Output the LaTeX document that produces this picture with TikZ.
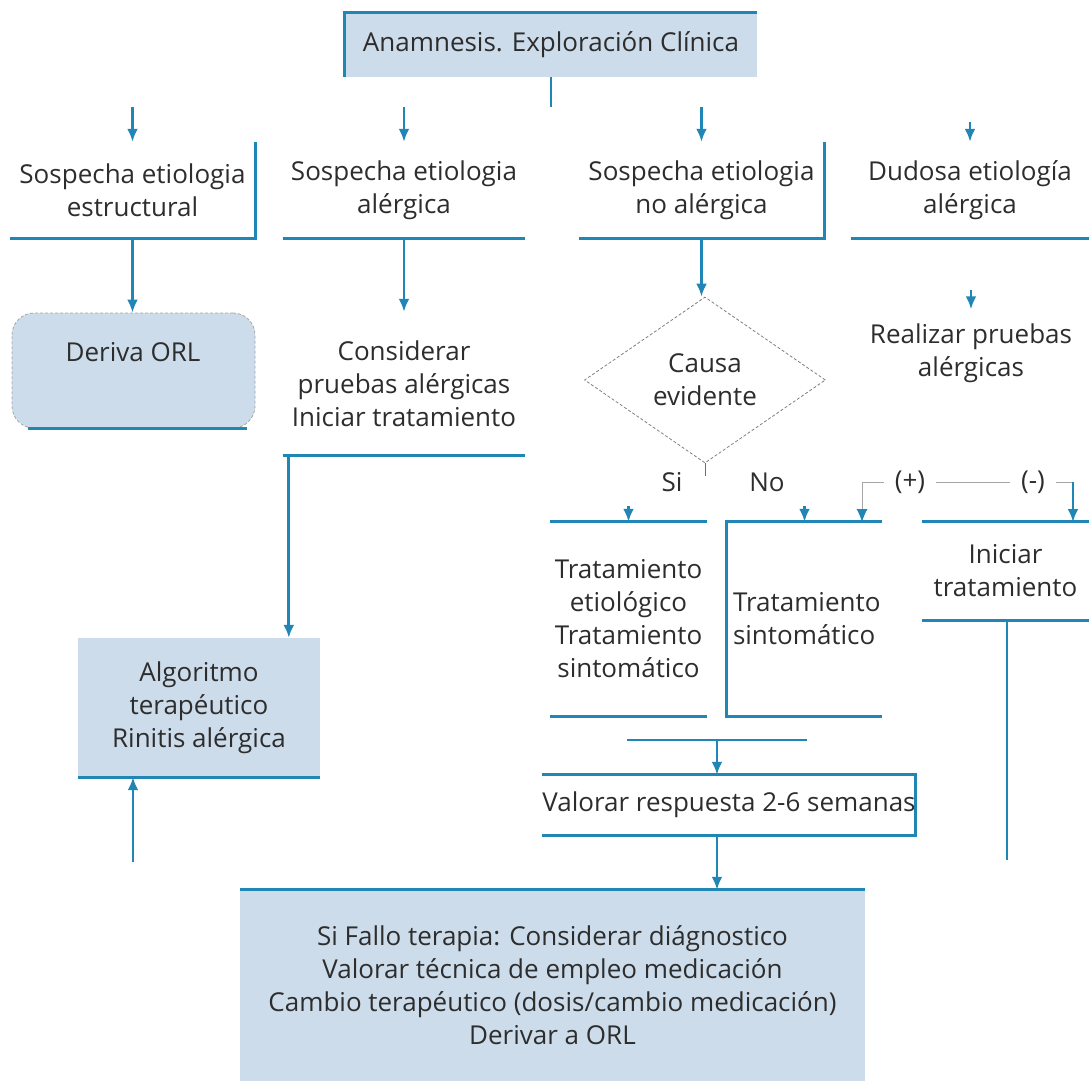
\documentclass[tikz,border=0pt]{standalone}
\usepackage{fontspec}
\setmainfont{Open Sans}
\usepackage{tikz}
\usetikzlibrary{arrows.meta}
\usetikzlibrary{shapes}
\usetikzlibrary{calc}

\definecolor{lineblue}{RGB}{32,134,181}
\definecolor{boxblue}{RGB}{205,220,235}
\definecolor{txtgray}{RGB}{45,45,45}

\tikzset{
  txt/.style={align=center, text=txtgray, inner sep=0pt,
    font=\fontsize{26pt}{33pt}\selectfont},
  fillbox/.style={txt, fill=boxblue},
  edge/.style={draw=lineblue, line width=2.8pt},
  conn/.style={edge, ->},
  thinline/.style={draw=gray!70, line width=0.9pt},
  decision/.style={txt, diamond, aspect=1.45, draw=gray, dash pattern=on 3pt off 2pt, line width=0.8pt,
    minimum width=241pt, minimum height=166pt},
  roundbox/.style={fill=boxblue, draw=gray!70, dash pattern=on 3pt off 2pt, line width=0.8pt,
    rounded corners=22pt, minimum width=243pt, minimum height=115pt}
}

\begin{document}
\begin{tikzpicture}[x=1pt, y=-1pt, >={Latex[length=13pt,width=11pt]}]
  \useasboundingbox (0,0) rectangle (1089,1081);

  \node[fillbox, minimum width=412pt, minimum height=64pt] (anam) at (551,45) {Anamnesis. Exploración Clínica};
  \draw[edge] (anam.south west) -- (anam.north west) -- (anam.north east);
  \coordinate (split) at (551,107);
  \draw[edge] (anam.south) -- (split);

  \node[txt, minimum width=245pt, minimum height=96pt] (estr) at (132.5,190) {Sospecha etiologia\\estructural};
  \node[txt, minimum width=242pt, minimum height=96pt] (alerg) at (404,190) {Sospecha etiologia\\alérgica};
  \node[txt, minimum width=245pt, minimum height=96pt] (noalerg) at (701.5,190) {Sospecha etiologia\\no alérgica};
  \node[txt, minimum width=238pt, minimum height=96pt] (dudosa) at (970,190) {Dudosa etiología\\alérgica};

  \foreach \n in {estr, alerg, noalerg} {
    \draw[conn] (\n.north |- split) -- (\n.north);
  }
  \draw[conn] ([yshift=20pt]dudosa.north) -- (dudosa.north);

  \draw[edge] (estr.north east) -- (estr.south east) -- (estr.south west);
  \draw[edge] (alerg.south west) -- (alerg.south east);
  \draw[edge] (noalerg.north east) -- (noalerg.south east) -- (noalerg.south west);
  \draw[edge] (dudosa.south west) -- (dudosa.south east);

  \node[roundbox] (deriva) at (133.5,370.5) {};
  \node[txt] (derivatxt) at (133,352) {Deriva ORL};
  \draw[edge] ([xshift=16pt]deriva.south west) -- ([xshift=-8pt]deriva.south east);
  \draw[conn] (estr.south) -- (estr.south |- deriva.north);

  \node[txt, minimum width=242pt, minimum height=143pt] (cons) at (404,383.5) {Considerar\\pruebas alérgicas\\Iniciar tratamiento};
  \draw[conn] (alerg.south) -- (cons.north);
  \draw[edge] (cons.south west) -- (cons.south east);

  \node[decision] (causa) at (705,380) {Causa\\evidente};
  \draw[conn] (noalerg.south) -- (noalerg.south |- causa.north);
  \coordinate (causaend) at (705,476);
  \draw[draw=lineblue, line width=1pt] (causa.south) -- (causaend);

  \node[txt] (realizar) at (971,353) {Realizar pruebas\\alérgicas};
  \draw[conn] ([yshift=33pt]realizar.north) -- ([yshift=14pt]realizar.north);

  \node[txt] (si) at (672,482) {Si};
  \node[txt] (no) at (767,482) {No};

  \node[txt, minimum width=157pt, minimum height=194pt] (etiol) at (628.5,619) {Tratamiento\\etiológico\\Tratamiento\\sintomático};
  \draw[edge] (etiol.north west) -- (etiol.north east);
  \draw[edge] (etiol.south west) -- (etiol.south east);
  \draw[conn] ([yshift=16pt]etiol.north) -- (etiol.north);

  \node[txt, align=left, text width=143pt, inner xsep=6pt, minimum height=194pt] (sintom) at (804.5,619) {Tratamiento\\sintomático};
  \draw[edge] (sintom.north east) -- (sintom.north west) -- (sintom.south west) -- (sintom.south east);
  \draw[conn] ([yshift=16pt]sintom.north) -- (sintom.north);

  \node[txt, minimum width=167pt, minimum height=98pt] (iniciar) at (1005.5,571) {Iniciar\\tratamiento};
  \draw[edge] (iniciar.north west) -- (iniciar.north east);
  \draw[edge] (iniciar.south west) -- (iniciar.south east);

  \node[txt, inner xsep=11pt] (pos) at (910,482) {(+)};
  \node[txt, inner xsep=11pt] (neg) at (1033,482) {(-)};
  \coordinate (posin) at (862,522);
  \coordinate (negin) at (1073,522);
  \draw[thinline, -{Latex[length=13pt,width=11pt,color=lineblue]}] (pos.west) -| (posin);
  \draw[thinline] (pos.east) -- (neg.west);
  \draw[thinline] (neg.east) -- (neg.east -| negin);
  \draw[conn] (neg.east -| negin) -- (negin);

  \coordinate (mergel) at (627,740);
  \coordinate (merger) at (807,740);
  \coordinate (mid) at (717,740);
  \draw[edge] (mergel) -- (merger);

  \node[txt, minimum width=362pt, minimum height=60pt] (valorar) at (729,805) {Valorar respuesta 2-6 semanas};
  \draw[edge] (valorar.north west) -- (valorar.north east) -- (valorar.south east) -- (valorar.south west);
  \draw[conn] (mid) -- (mid |- valorar.north);

  \node[fillbox, minimum width=625pt, minimum height=191pt] (fallo) at (552.5,985.5) {Si Fallo terapia: Considerar diágnostico\\Valorar técnica de empleo medicación\\Cambio terapéutico (dosis/cambio medicación)\\Derivar a ORL};
  \draw[edge] (fallo.north west) -- (fallo.north east);
  \draw[conn] (mid |- valorar.south) -- (mid |- fallo.north);

  \node[fillbox, minimum width=242pt, minimum height=139pt] (algo) at (199,707.5) {Algoritmo\\terapéutico\\Rinitis alérgica};
  \draw[edge] (algo.south west) -- (algo.south east);
  \draw[conn] ([xshift=6pt]cons.south west) -- ([xshift=6pt]cons.south west |- algo.north);

  \coordinate (leftfoot) at (133,862);
  \draw[conn] (leftfoot) -- (leftfoot |- algo.south);
  \coordinate (rightfoot) at (1007,860);
  \draw[edge] (iniciar.south -| rightfoot) -- (rightfoot);
\end{tikzpicture}
\end{document}
